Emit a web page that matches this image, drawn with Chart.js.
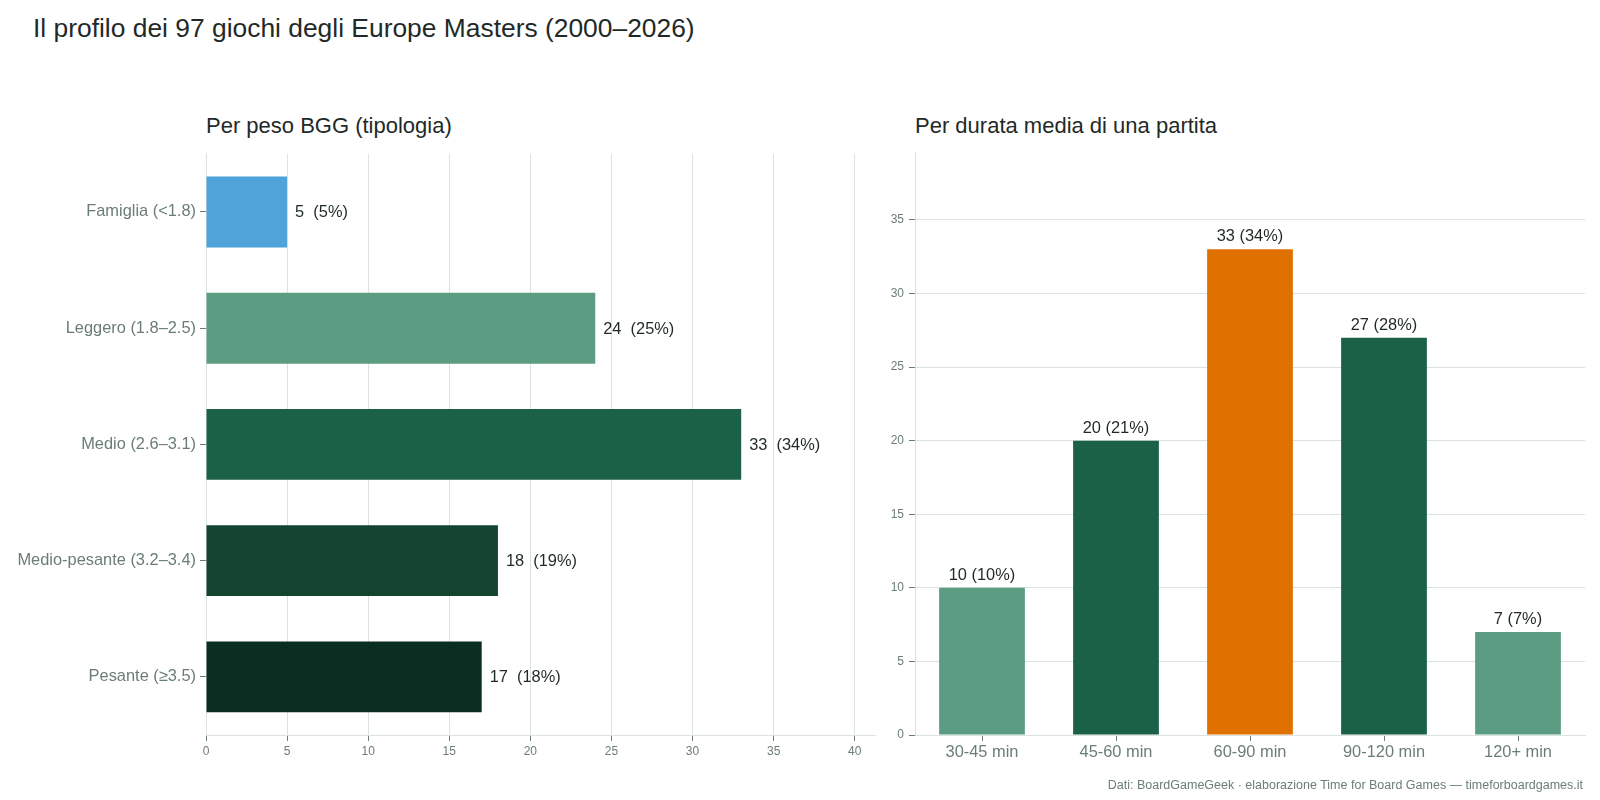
<!DOCTYPE html>
<html lang="it">
<head>
<meta charset="utf-8">
<title>Europe Masters</title>
<script src="https://cdn.jsdelivr.net/npm/chart.js@4.4.1/dist/chart.umd.min.js"></script>
<style>
  body { margin: 0; background: #fff; font-family: "Liberation Sans", Arial, sans-serif; }
  #page { position: relative; width: 1600px; height: 800px; overflow: hidden; }
  .title { position: absolute; left: 33px; top: 13px; font-size: 26.4px; color: #1f2a28; white-space: nowrap; }
  .sub { position: absolute; top: 113px; font-size: 22px; color: #1f2a28; white-space: nowrap; }
  .foot { position: absolute; right: 17px; top: 778px; font-size: 12.5px; color: #6b7d78; white-space: nowrap; }
  .box { position: absolute; }
</style>
</head>
<body>
<div id="page">
  <div class="title">Il profilo dei 97 giochi degli Europe Masters (2000–2026)</div>
  <div class="sub" style="left:206px">Per peso BGG (tipologia)</div>
  <div class="sub" style="left:915px">Per durata media di una partita</div>
  <div class="box" style="left:0;top:140px;width:890px;height:635px"><canvas id="weightChart"></canvas></div>
  <div class="box" style="left:870px;top:140px;width:730px;height:635px"><canvas id="timeChart"></canvas></div>
  <div class="foot">Dati: BoardGameGeek · elaborazione Time for Board Games — timeforboardgames.it</div>
</div>
<script>
// Data
const totalGames = 97;
const weightLabels = ['Famiglia (<1.8)', 'Leggero (1.8–2.5)', 'Medio (2.6–3.1)', 'Medio-pesante (3.2–3.4)', 'Pesante (≥3.5)'];
const weightCounts = [5, 24, 33, 18, 17];
const weightColors = ['#4ea3d8', '#5c9c82', '#1a6147', '#134430', '#0a2e21'];

const timeLabels = ['30-45 min', '45-60 min', '60-90 min', '90-120 min', '120+ min'];
const timeCounts = [10, 20, 33, 27, 7];
const timeColors = ['#5c9c82', '#1a6147', '#e07000', '#1a6147', '#5c9c82'];

const FONT = '"Liberation Sans", Arial, sans-serif';
const gridColor = '#dbe3e0';
const tickColor = '#6b7d78';
const textColor = '#1f2a28';

const pct = v => Math.round(v / totalGames * 100);

// Value labels next to / above the bars
const valueLabels = {
    id: 'valueLabels',
    afterDatasetsDraw(chart) {
        const ctx = chart.ctx;
        const meta = chart.getDatasetMeta(0);
        const data = chart.data.datasets[0].data;
        const horizontal = chart.options.indexAxis === 'y';
        ctx.save();
        ctx.fillStyle = textColor;
        ctx.font = '16.4px ' + FONT;
        meta.data.forEach((bar, i) => {
            const v = data[i];
            if (horizontal) {
                ctx.textAlign = 'left';
                ctx.textBaseline = 'middle';
                ctx.fillText(v + '  (' + pct(v) + '%)', bar.x + 8, bar.y + 1);
            } else {
                ctx.textAlign = 'center';
                ctx.textBaseline = 'alphabetic';
                ctx.fillText(v + ' (' + pct(v) + '%)', bar.x, bar.y - 8);
            }
        });
        ctx.restore();
    }
};

Chart.defaults.font.family = FONT;
Chart.defaults.animation = false;

// Left: by BGG weight
new Chart(document.getElementById('weightChart'), {
    type: 'bar',
    data: {
        labels: weightLabels,
        datasets: [{
            data: weightCounts,
            backgroundColor: weightColors,
            barPercentage: 0.61,
            categoryPercentage: 1
        }]
    },
    options: {
        indexAxis: 'y',
        responsive: true,
        maintainAspectRatio: false,
        layout: { padding: { top: 11, right: 15, left: 0, bottom: 0 } },
        plugins: { legend: { display: false }, tooltip: { enabled: false } },
        scales: {
            x: {
                min: 0,
                max: 41.25,
                ticks: { stepSize: 5, includeBounds: false, color: tickColor, font: { size: 12 }, padding: 3 },
                grid: { color: gridColor, tickLength: 6, tickColor: tickColor },
                border: { color: gridColor },
                afterFit: s => { s.height = 40; }
            },
            y: {
                ticks: { color: tickColor, font: { size: 16.4 }, padding: 4 },
                grid: { offset: false, drawOnChartArea: false, tickLength: 6, tickColor: tickColor },
                border: { color: gridColor },
                afterFit: s => { s.width = 206; }
            }
        }
    },
    plugins: [valueLabels]
});

// Right: by average play time
new Chart(document.getElementById('timeChart'), {
    type: 'bar',
    data: {
        labels: timeLabels,
        datasets: [{
            data: timeCounts,
            backgroundColor: timeColors,
            barPercentage: 0.64,
            categoryPercentage: 1
        }]
    },
    options: {
        responsive: true,
        maintainAspectRatio: false,
        layout: { padding: { top: 11, right: 15, left: 0, bottom: 0 } },
        plugins: { legend: { display: false }, tooltip: { enabled: false } },
        scales: {
            x: {
                ticks: { color: tickColor, font: { size: 16.4 }, padding: 2 },
                grid: { offset: false, drawOnChartArea: false, tickLength: 6, tickColor: tickColor },
                border: { color: gridColor },
                afterFit: s => { s.height = 40; }
            },
            y: {
                min: 0,
                max: 39.6,
                ticks: { stepSize: 5, includeBounds: false, color: tickColor, font: { size: 12 }, padding: 5 },
                grid: { color: gridColor, tickLength: 6, tickColor: tickColor },
                border: { color: gridColor },
                afterFit: s => { s.width = 45; }
            }
        }
    },
    plugins: [valueLabels]
});
</script>
</body>
</html>
